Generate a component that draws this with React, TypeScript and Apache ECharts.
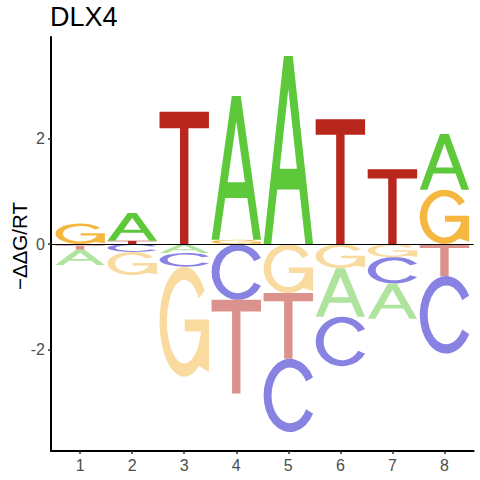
import React, { useEffect, useRef } from "react";
import * as echarts from "echarts";

// ---- data ----
const POSITIONS = [1, 2, 3, 4, 5, 6, 7, 8];
const LETTERS = ["A", "C", "G", "T"];
const A_VALUES = [-0.29, 0.53, -0.17, 2.73, 3.57, -0.92, -0.67, 1.06];
const C_VALUES = [-0.03, -0.15, -0.26, -1.06, -1.39, -0.94, -0.5, -1.47];
const G_VALUES = [0.39, -0.44, -2.09, 0.08, -0.93, -0.46, -0.25, 1.03];
const T_VALUES = [-0.08, 0.06, 2.51, -1.78, -1.25, 2.37, 1.42, -0.61];
const X_TICKS = [1, 2, 3, 4, 5, 6, 7, 8];
const Y_TICKS = [-2, 0, 2];
const TITLE = "DLX4";
const Y_NAME = "\u2212\u0394\u0394G/RT";

// ---- style ----
const POS_COLORS = ["#5DC93A", "#1C16C8", "#F5B73F", "#B8261C"];
const NEG_COLORS = ["#AEE49D", "#8883E3", "#FADB9F", "#DB928D"];
const FONT = "'Liberation Sans', Arial, Helvetica, sans-serif";
const HALF_W = 0.475;

const GLYPHS = [
  // A
  "M0,100 L41,0 L59,0 L100,100 L84.5,100 L72.4,71 L27.6,71 L15.5,100 Z M32.6,60 L67.4,60 L50,17.6 Z",
  // C
  "M93.3,25 A50,50 0 1 0 93.3,75 L80.3,69 A35,38 0 1 1 80.3,31 Z",
  // G
  "M91.4,22 A50,50 0 1 0 80,90 L100,96 L100,48 L51,48 L51,59 L84,59 A35,38 0 1 1 79.2,29 Z",
  // T
  "M0,0 L100,0 L100,12.5 L58.5,12.5 L58.5,100 L41.5,100 L41.5,12.5 L0,12.5 Z",
];

function buildStacks() {
  const all = [A_VALUES, C_VALUES, G_VALUES, T_VALUES];
  const items: number[][] = [];
  POSITIONS.forEach((p, i) => {
    const vals = LETTERS.map((_, k) => ({ k, v: all[k][i] }));
    const pos = vals.filter((d) => d.v > 0).sort((a, b) => a.v - b.v);
    let base = 0;
    pos.forEach((d) => {
      items.push([p, base, base + d.v, d.k, 0]);
      base += d.v;
    });
    const neg = vals.filter((d) => d.v < 0).sort((a, b) => b.v - a.v);
    base = 0;
    neg.forEach((d) => {
      items.push([p, base, base + d.v, d.k, 1]);
      base += d.v;
    });
  });
  return items;
}

export default function App() {
  const ref = useRef<HTMLDivElement>(null);
  useEffect(() => {
    if (!ref.current) return;
    const chart = echarts.init(ref.current, undefined, { renderer: "svg" });
    const data = buildStacks();
    chart.setOption({
      animation: false,
      backgroundColor: "#ffffff",
      textStyle: { fontFamily: FONT },
      grid: { left: 51, right: 6.4, top: 37, bottom: 29, containLabel: false, outerBoundsMode: "none" },
      xAxis: {
        type: "value",
        min: 0.44,
        max: 8.56,
        splitLine: { show: false },
        axisLine: { show: true, onZero: false, lineStyle: { color: "#000", width: 2 } },
        axisTick: { show: true, length: 3, customValues: X_TICKS, lineStyle: { color: "#333", width: 1.5 } },
        axisLabel: { customValues: X_TICKS, color: "#4D4D4D", fontSize: 16, margin: 6, fontFamily: FONT },
      },
      yAxis: {
        type: "value",
        min: -3.93,
        max: 3.93,
        splitLine: { show: false },
        axisLine: { show: true, onZero: false, lineStyle: { color: "#000", width: 2 } },
        axisTick: { show: true, length: 3, customValues: Y_TICKS, lineStyle: { color: "#333", width: 1.5 } },
        axisLabel: { customValues: Y_TICKS, color: "#4D4D4D", fontSize: 16, margin: 6, fontFamily: FONT },
      },
      graphic: [
        {
          type: "text",
          x: 50,
          y: 17.3,
          style: { text: TITLE, fontSize: 27, fill: "#000", align: "left", verticalAlign: "middle", fontFamily: FONT },
        },
        {
          type: "text",
          x: 19.5,
          y: 246,
          rotation: Math.PI / 2,
          style: { text: Y_NAME, fontSize: 20.5, fill: "#000", align: "center", verticalAlign: "middle", fontFamily: FONT },
        },
      ],
      series: [
        {
          type: "custom",
          data,
          encode: { x: 0, y: [1, 2] },
          renderItem: (params: any, api: any) => {
            const x = api.value(0);
            const a = api.value(1);
            const b = api.value(2);
            const k = api.value(3);
            const neg = api.value(4);
            const tl = api.coord([x - HALF_W, Math.max(a, b)]);
            const br = api.coord([x + HALF_W, Math.min(a, b)]);
            return {
              type: "path",
              shape: {
                pathData: GLYPHS[k],
                x: tl[0],
                y: tl[1],
                width: br[0] - tl[0],
                height: br[1] - tl[1],
                layout: "cover",
              },
              style: { fill: neg ? NEG_COLORS[k] : POS_COLORS[k] },
            };
          },
          markLine: {
            silent: true,
            symbol: ["none", "none"],
            label: { show: false },
            lineStyle: { color: "#000", width: 1, type: "solid" },
            data: [{ yAxis: 0 }],
          },
        },
      ],
    });
    return () => chart.dispose();
  }, []);
  return <div ref={ref} style={{ position: "fixed", left: 0, top: 0, width: 480, height: 480 }} />;
}
